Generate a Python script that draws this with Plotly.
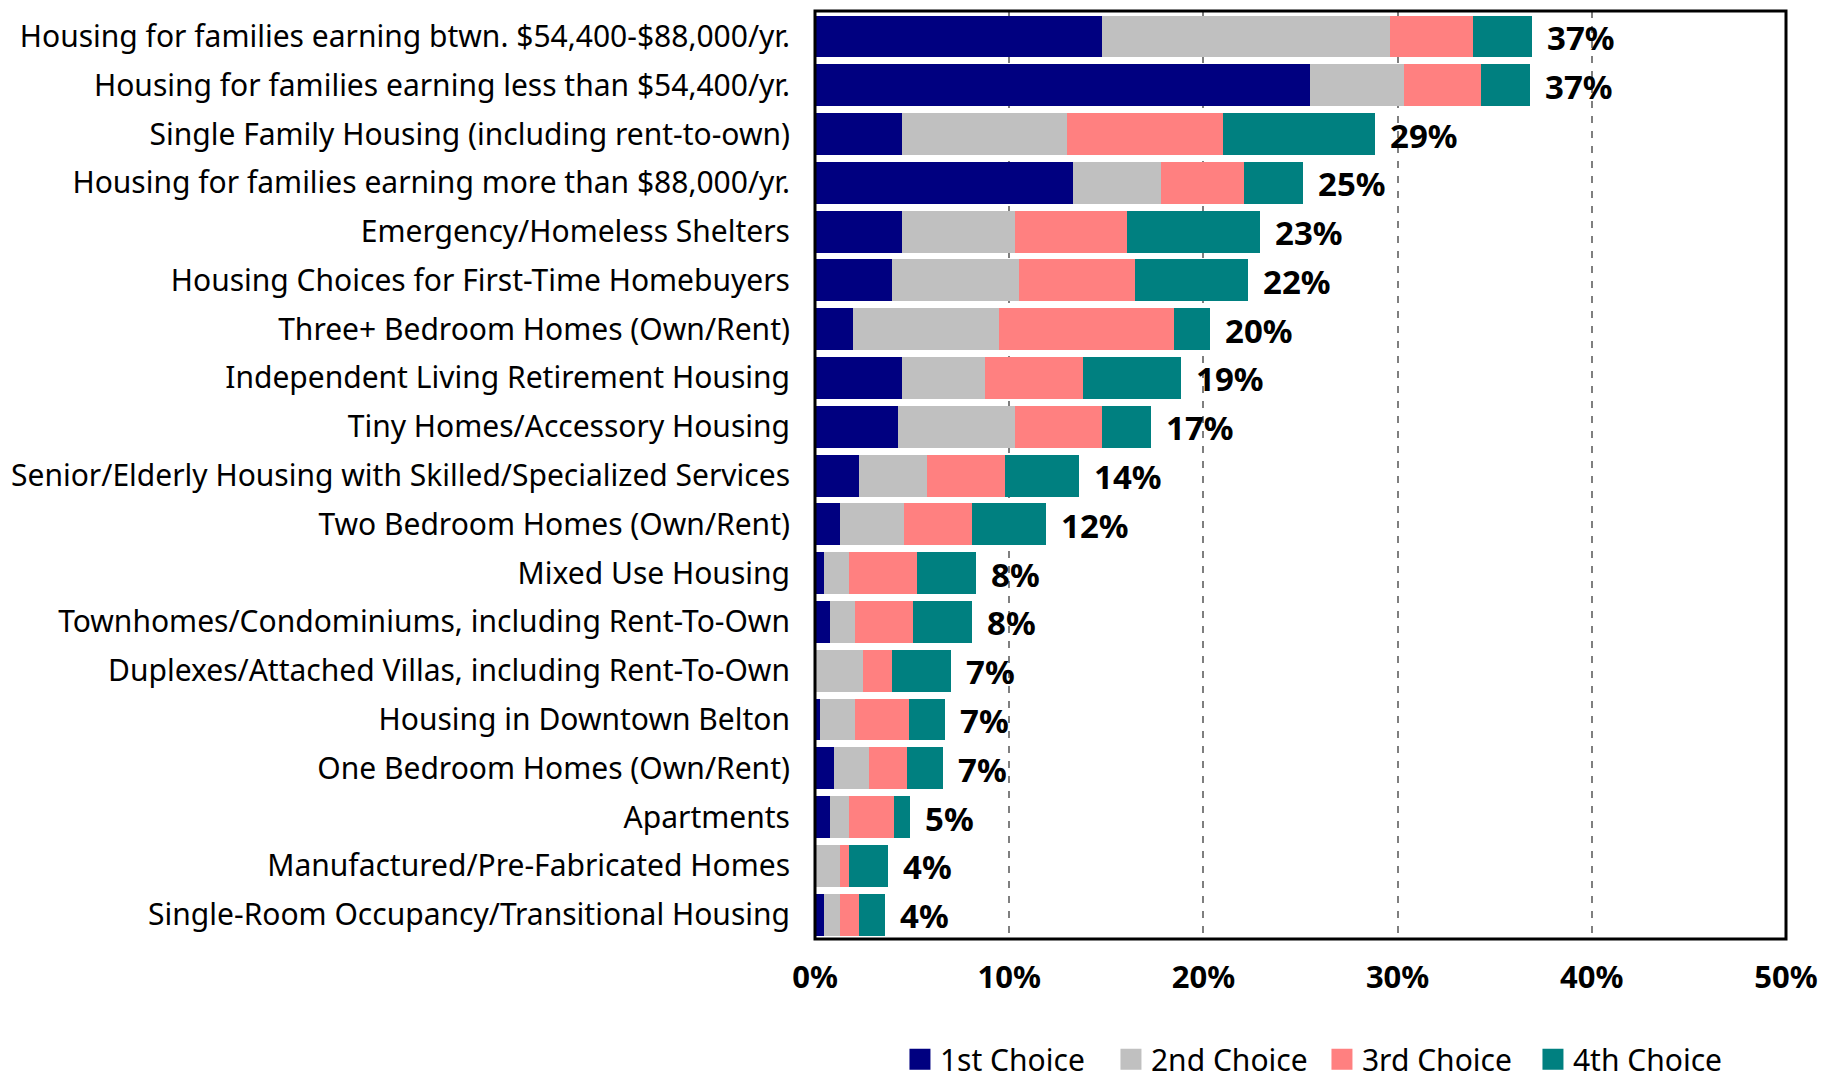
import plotly.graph_objects as go

categories = [
    "Housing for families earning btwn. $54,400-$88,000/yr.",
    "Housing for families earning less than $54,400/yr.",
    "Single Family Housing (including rent-to-own)",
    "Housing for families earning more than $88,000/yr.",
    "Emergency/Homeless Shelters",
    "Housing Choices for First-Time Homebuyers",
    "Three+ Bedroom Homes (Own/Rent)",
    "Independent Living Retirement Housing",
    "Tiny Homes/Accessory Housing",
    "Senior/Elderly Housing with Skilled/Specialized Services",
    "Two Bedroom Homes (Own/Rent)",
    "Mixed Use Housing",
    "Townhomes/Condominiums, including Rent-To-Own",
    "Duplexes/Attached Villas, including Rent-To-Own",
    "Housing in Downtown Belton",
    "One Bedroom Homes (Own/Rent)",
    "Apartments",
    "Manufactured/Pre-Fabricated Homes",
    "Single-Room Occupancy/Transitional Housing",
]

first_choice = [14.8, 25.5, 4.48, 13.28, 4.48, 3.96, 1.96, 4.48, 4.27, 2.28,
                1.28, 0.46, 0.78, 0.0, 0.25, 0.96, 0.76, 0.0, 0.45]
second_choice = [14.8, 4.84, 8.49, 4.55, 5.81, 6.54, 7.51, 4.28, 6.02, 3.49,
                 3.31, 1.29, 1.28, 2.46, 1.80, 1.81, 0.99, 1.30, 0.85]
third_choice = [4.28, 3.96, 8.04, 4.26, 5.78, 5.99, 9.02, 5.05, 4.49, 4.02,
                3.49, 3.49, 2.97, 1.50, 2.78, 1.97, 2.31, 0.45, 0.96]
fourth_choice = [3.05, 2.53, 7.83, 3.04, 6.86, 5.81, 1.86, 5.04, 2.52, 3.81,
                 3.81, 3.05, 3.05, 3.04, 1.85, 1.84, 0.82, 2.00, 1.36]

total_labels = ["37%", "37%", "29%", "25%", "23%", "22%", "20%", "19%", "17%", "14%",
                "12%", "8%", "8%", "7%", "7%", "7%", "5%", "4%", "4%"]

x_tick_vals = [0, 10, 20, 30, 40, 50]
x_tick_text = ["0%", "10%", "20%", "30%", "40%", "50%"]

series = [
    ("1st Choice", first_choice, "#000080"),
    ("2nd Choice", second_choice, "#C0C0C0"),
    ("3rd Choice", third_choice, "#FF8080"),
    ("4th Choice", fourth_choice, "#008080"),
]

FONT = "Noto Sans"

fig = go.Figure()
for name, vals, color in series:
    fig.add_trace(go.Bar(
        y=categories, x=vals, name=name, orientation="h",
        marker=dict(color=color, line=dict(width=0)),
        hoverinfo="x+name", legendgroup=name, showlegend=False,
    ))
# legend entries (larger square swatches, linked to the bars by legendgroup)
for name, vals, color in series:
    fig.add_trace(go.Scatter(
        x=[None], y=[None], mode="markers", name=name, legendgroup=name,
        marker=dict(symbol="square", size=16, color=color, line=dict(width=5, color=color)),
        showlegend=True, hoverinfo="skip",
    ))

totals = [a + b + c + d for a, b, c, d in zip(first_choice, second_choice, third_choice, fourth_choice)]
for cat, tot, lab in zip(categories, totals, total_labels):
    fig.add_annotation(
        x=tot, y=cat, text=lab, showarrow=False,
        xanchor="left", yanchor="middle", xshift=13, yshift=-1,
        font=dict(family=FONT, size=33, color="black", weight="bold"),
    )

# plot-area border
fig.add_shape(type="rect", xref="paper", yref="paper", x0=0, x1=1, y0=0, y1=1,
              line=dict(color="black", width=3), layer="above")

fig.update_layout(
    width=1828, height=1072,
    margin=dict(l=807, r=50, t=3, b=141, autoexpand=False),
    barmode="stack", bargap=0.14,
    plot_bgcolor="white", paper_bgcolor="white",
    font=dict(family=FONT, color="black"),
    showlegend=True,
    legend=dict(
        orientation="h", traceorder="normal", itemsizing="trace",
        x=0.0875, xanchor="left", y=-0.1295, yanchor="middle",
        font=dict(family=FONT, size=30, color="black"),
        entrywidth=166, entrywidthmode="pixels",
        bgcolor="rgba(0,0,0,0)",
    ),
    xaxis=dict(
        range=[0, 50], tickvals=x_tick_vals, ticktext=x_tick_text,
        showgrid=True, gridcolor="#7f7f7f", gridwidth=1.5, griddash="7px,8px",
        zeroline=False, showline=False, ticks="",
        tickfont=dict(family=FONT, size=31, color="black", weight="bold"),
        ticklabelstandoff=17, fixedrange=True,
    ),
    yaxis=dict(
        autorange="reversed", showgrid=False, zeroline=False, showline=False,
        ticks="", tickfont=dict(family=FONT, size=30, color="black"),
        ticklabelstandoff=24, fixedrange=True,
    ),
)

fig.write_html("out.html")
